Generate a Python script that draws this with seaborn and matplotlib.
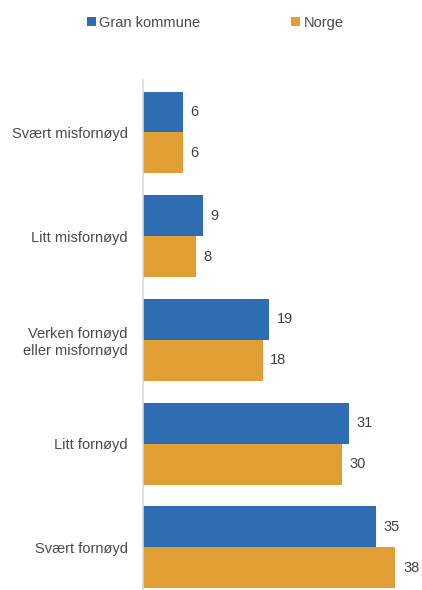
import matplotlib
matplotlib.use("Agg")
import matplotlib.pyplot as plt
import seaborn as sns
import pandas as pd
from matplotlib.patches import Patch

categories = ["Svært misfornøyd", "Litt misfornøyd", "Verken fornøyd\neller misfornøyd",
              "Litt fornøyd", "Svært fornøyd"]
series_names = ["Gran kommune", "Norge"]
gran_values = [6, 9, 19, 31, 35]
norge_values = [6, 8, 18, 30, 38]
colors = ["#2E6DB4", "#E09E35"]

sns.set_theme(style="white")
plt.rcParams['font.family'] = ['Liberation Sans', 'DejaVu Sans']

df = pd.DataFrame({
    "Kategori": categories * 2,
    "Serie": [series_names[0]] * len(categories) + [series_names[1]] * len(categories),
    "Verdi": gran_values + norge_values,
})

fig = plt.figure(figsize=(4.22, 5.90), dpi=100)
ax = fig.add_axes([143 / 422, 0.0, 1 - 143 / 422, (590 - 80) / 590])

sns.barplot(data=df, y="Kategori", x="Verdi", hue="Serie", order=categories,
            hue_order=series_names, palette=colors, orient="h", width=0.79,
            saturation=1, ax=ax, legend=False, edgecolor="none")

for cont in ax.containers:
    ax.bar_label(cont, fmt="%g", padding=5.5, fontsize=10.5, color="#404040")

ax.set_xlim(0, 42)
ax.set_ylim(4.41, -0.506)
ax.set_xlabel("")
ax.set_ylabel("")
ax.set_xticks([])
ax.tick_params(axis="y", length=0, pad=11, labelsize=10.5, labelcolor="#4a4a4a")
for lbl in ax.get_yticklabels():
    lbl.set_horizontalalignment("right")
    lbl.set_multialignment("right")
for s in ["top", "right", "bottom"]:
    ax.spines[s].set_visible(False)
ax.spines["left"].set_color("#D9D9D9")
ax.spines["left"].set_linewidth(1.2)

handles = [Patch(facecolor=c, edgecolor="none") for c in colors]
fig.legend(handles, series_names, loc="center", bbox_to_anchor=(0.51, 1 - 23 / 590),
           ncol=2, frameon=False, fontsize=10.5, handlelength=0.6, handleheight=0.6,
           handletextpad=0.25, columnspacing=6.2, labelcolor="#4a4a4a")

fig.savefig("out.png", dpi=100)
